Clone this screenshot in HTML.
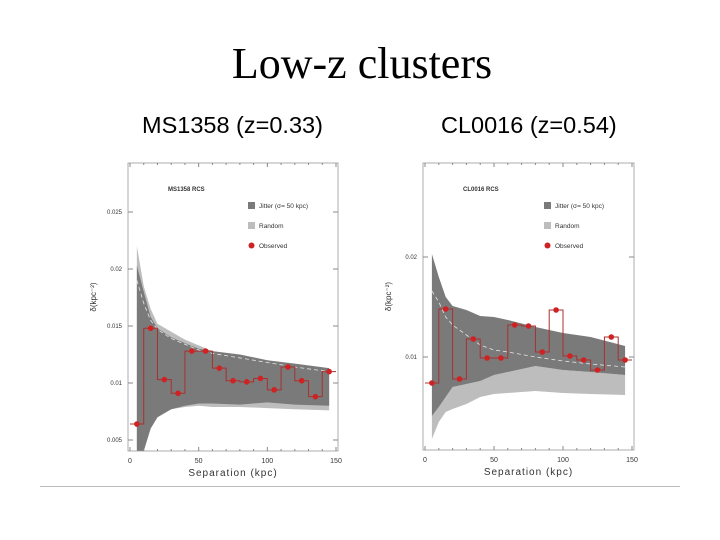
<!DOCTYPE html>
<html><head><meta charset="utf-8"><style>
body{margin:0;background:#fff;}
#wrap{position:relative;width:720px;height:540px;overflow:hidden;background:#fff;}
.t{position:absolute;white-space:nowrap;}
</style></head><body>
<div id="wrap">
<div class="t" style="left:0;width:724px;text-align:center;top:38px;font:44px 'Liberation Serif',serif;">Low-z clusters</div>
<div class="t" style="left:142px;top:112px;font:23.5px 'Liberation Sans',sans-serif;">MS1358 (z=0.33)</div>
<div class="t" style="left:441px;top:112px;font:23.5px 'Liberation Sans',sans-serif;">CL0016 (z=0.54)</div>
<div style="position:absolute;left:40px;top:486px;width:640px;height:1px;background:#bbb;"></div>
<svg id="svg" width="720" height="540" style="position:absolute;left:0;top:0"></svg>
</div>
<script>
// shared x positions of bands (kpc)
const bandX=[5,10,15,20,30,40,50,60,80,100,120,145];
const binCenters=[5,15,25,35,45,55,65,75,85,95,105,115,125,135,145];
// MS1358
const msJitUp=[0.0203,0.018,0.0158,0.0148,0.0140,0.0135,0.0130,0.0128,0.0125,0.0120,0.0117,0.0113];
const msJitLo=[0.002,0.004,0.006,0.007,0.0077,0.0080,0.0082,0.0082,0.0081,0.0083,0.0081,0.0080];
const msRanUp=[0.022,0.0185,0.0165,0.0152,0.0145,0.0138,0.0133,0.0128,0.0124,0.0119,0.0116,0.0112];
const msRanLo=[0.002,0.004,0.006,0.007,0.0077,0.0079,0.0080,0.0079,0.0079,0.0078,0.0077,0.0076];
const msObs=[0.0064,0.0148,0.0103,0.0091,0.0128,0.0128,0.0113,0.0102,0.0101,0.0104,0.0094,0.0114,0.0102,0.0088,0.0110];
const msDash=[0.019,0.017,0.0155,0.0147,0.0139,0.0134,0.0129,0.0126,0.0122,0.0118,0.0114,0.0110];
const msTicks=[0.005,0.01,0.015,0.02,0.025];
const msTickLabels=["0.005","0.01","0.015","0.02","0.025"];
// CL0016
const clJitUp=[0.0203,0.018,0.0160,0.0151,0.0147,0.0141,0.0140,0.0137,0.0130,0.0124,0.0120,0.0111];
const clJitLo=[0.0041,0.005,0.006,0.007,0.0073,0.0076,0.0082,0.0085,0.0091,0.0087,0.0085,0.0082];
const clRanUp=[0.0041,0.005,0.006,0.007,0.0073,0.0076,0.0082,0.0085,0.0091,0.0087,0.0085,0.0082];
const clRanLo=[0.0018,0.0035,0.0045,0.0048,0.0053,0.0060,0.0063,0.0064,0.0066,0.0064,0.0063,0.0062];
const clObs=[0.0074,0.0148,0.0078,0.0118,0.0099,0.0099,0.0132,0.0131,0.0105,0.0147,0.0101,0.0097,0.0087,0.0120,0.0097];
const clDash=[0.0166,0.0155,0.014,0.0132,0.0122,0.0112,0.0107,0.0105,0.0100,0.0096,0.0093,0.0090];
const clTicks=[0.01,0.02];
const clTickLabels=["0.01","0.02"];
const xTicks=[0,50,100,150];

const NS="http://www.w3.org/2000/svg";
const svg=document.getElementById('svg');
function mk(tag,attrs,parent){const e=document.createElementNS(NS,tag);for(const k in attrs)e.setAttribute(k,attrs[k]);(parent||svg).appendChild(e);return e;}

function chart(o){
  const g=mk('g',{});
  
  
  const sx=v=>o.x0+(v/150)*(o.x1-o.x0);
  const sy=v=>o.yb+(v-o.vb)*(o.yt-o.yb)/(o.vt-o.vb);
  const band=(up,lo,fill,nm)=>{
    let d='';
    bandX.forEach((x,i)=>{d+=(i?'L':'M')+sx(x)+','+Math.min(o.fb,sy(up[i]));});
    for(let i=bandX.length-1;i>=0;i--)d+='L'+sx(bandX[i])+','+Math.min(o.fb,sy(lo[i]));
    const p=mk('path',{d:d+'Z',fill:fill},g);
    
    
  };
  band(o.ranUp,o.ranLo,'#bdbdbd','random-band');
  band(o.jitUp,o.jitLo,'#7a7a7a','jitter-band');
  let dd='';bandX.forEach((x,i)=>{dd+=(i?'L':'M')+sx(x)+','+sy(o.dash[i]);});
  const dl=mk('path',{d:dd,fill:'none',stroke:'#e4e4e4','stroke-width':0.8,'stroke-dasharray':'4,3'},g);
  
  
  // frame
  const fr=mk('rect',{x:o.x0-2,y:o.ft,width:o.x1-o.x0+4,height:o.fb-o.ft,fill:'none',stroke:'#999','stroke-width':0.8},g);
  
  
  // step line
  let sd='';
  binCenters.forEach((c,i)=>{const y=sy(o.obs[i]);sd+=(i?'L':'M')+sx(c-5)+','+y+'L'+sx(c+5)+','+y;});
  const st=mk('path',{d:sd,fill:'none',stroke:'#a83030','stroke-width':1},g);
  
  
  binCenters.forEach((c,i)=>{
    const p=mk('circle',{cx:sx(c),cy:sy(o.obs[i]),r:2.8,fill:'#d02222'},g);
    
    
  });
  // ticks
  for(let v=0;v<=150;v+=10){
    mk('line',{x1:sx(v),x2:sx(v),y1:o.fb,y2:o.fb-(v%50?2:4),stroke:'#888'},g);
    mk('line',{x1:sx(v),x2:sx(v),y1:o.ft,y2:o.ft+(v%50?2:4),stroke:'#888'},g);
  }
  xTicks.forEach(v=>{
    const t=mk('text',{x:sx(v),y:o.fb+12,'font-size':7,'text-anchor':'middle','font-family':'Liberation Sans,sans-serif',fill:'#333'},g);
    t.textContent=v;
    
    
  });
  o.ticks.forEach((v,i)=>{
    const y=sy(v);
    mk('line',{x1:o.x0-2,x2:o.x0+3,y1:y,y2:y,stroke:'#888'},g);
    mk('line',{x1:o.x1+2,x2:o.x1-3,y1:y,y2:y,stroke:'#888'},g);
    const t=mk('text',{x:o.x0-8,y:y+2,'font-size':6,'text-anchor':'end','font-family':'Liberation Sans,sans-serif',fill:'#333'},g);
    t.textContent=o.tickLabels[i];
    
    
  });
  const xt=mk('text',{x:(o.x0+o.x1)/2,y:o.fb+25,'font-size':10,'text-anchor':'middle','font-family':'Liberation Sans,sans-serif','letter-spacing':'1',fill:'#333'},g);
  xt.textContent='Separation (kpc)';
  
  
  const yt=mk('text',{x:0,y:0,'font-size':8,'text-anchor':'middle','font-family':'Liberation Sans,sans-serif',fill:'#333',transform:`translate(${o.x0-34},${(o.ft+o.fb)/2-10}) rotate(-90)`},g);
  yt.textContent='δ(kpc⁻²)';
  
  
  const ct=mk('text',{x:o.x0+38,y:o.ft+28,'font-size':6,'font-weight':'bold','font-family':'Liberation Sans,sans-serif',fill:'#333'},g);
  ct.textContent=o.label;
  
  
  const lx=o.x1-88;
  [['rect','#7a7a7a','Jitter (σ= 50 kpc)',206],['rect','#bdbdbd','Random',226],['circle','#d02222','Observed',246]].forEach(e=>{
    const y=e[3];
    if(e[0]=='rect')mk('rect',{x:lx,y:y-4,width:7,height:7,fill:e[1]},g);
    else mk('circle',{cx:lx+3.5,cy:y-0.5,r:3,fill:e[1]},g);
    const t=mk('text',{x:lx+11,y:y+2,'font-size':6.5,'font-family':'Liberation Sans,sans-serif',fill:'#333'},g);
    t.textContent=e[2];
    
    
  });
}
chart({name:'ms1358-chart',x0:130,x1:336,ft:163,fb:451,yb:383,yt:269,vb:0.01,vt:0.02,jitUp:msJitUp,jitLo:msJitLo,ranUp:msRanUp,ranLo:msRanLo,obs:msObs,dash:msDash,ticks:msTicks,tickLabels:msTickLabels,label:'MS1358 RCS'});
chart({name:'cl0016-chart',x0:425,x1:632,ft:163,fb:450,yb:357,yt:257,vb:0.01,vt:0.02,jitUp:clJitUp,jitLo:clJitLo,ranUp:clRanUp,ranLo:clRanLo,obs:clObs,dash:clDash,ticks:clTicks,tickLabels:clTickLabels,label:'CL0016 RCS'});
</script>
</body></html>
